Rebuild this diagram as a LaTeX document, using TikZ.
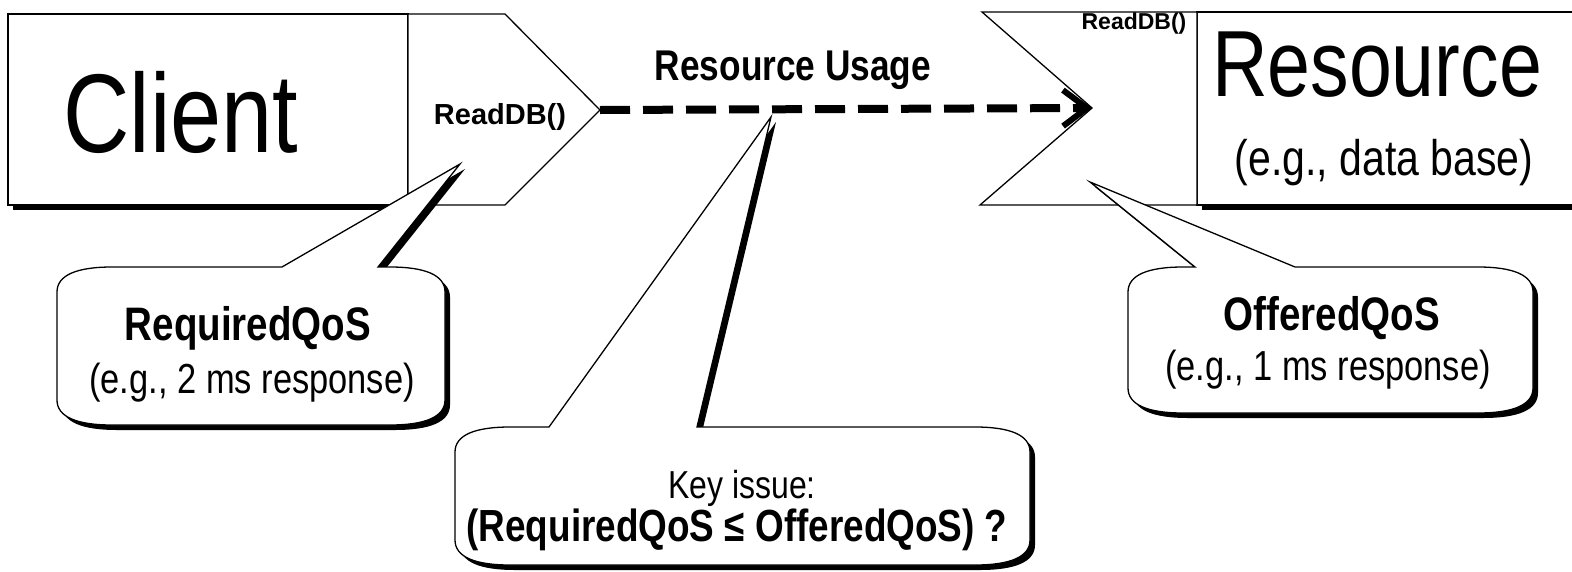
\documentclass[tikz,border=0pt]{standalone}
\usepackage{fontspec}
\setmainfont{Liberation Sans}
\newfontfamily\nar[FakeStretch=0.82]{Liberation Sans}
\newfontfamily\ari{Liberation Sans}
\usetikzlibrary{arrows.meta}
\newcommand\fs[1]{\fontsize{#1}{#1}\selectfont}
% callout path: L T R B xa xb tx ty
\newcommand\cpath[8]{(#1,#2+25) .. controls (#1,#2+8) and (#1+20,#2) .. (#1+55,#2) -- (#5,#2) -- (#7,#8) -- (#6,#2) -- (#3-55,#2) .. controls (#3-20,#2) and (#3,#2+8) .. (#3,#2+25) -- (#3,#4-25) .. controls (#3,#4-8) and (#3-20,#4) .. (#3-55,#4) -- (#1+55,#4) .. controls (#1+20,#4) and (#1,#4-8) .. (#1,#4-25) -- cycle}
\tikzset{
  thin line/.style={line width=1.3pt, line join=miter},
  shapebox/.style={thin line, draw=black, fill=white},
  shadowfill/.style={fill=black},
  txt/.style={inner sep=0pt, anchor=center, align=center},
}
\begin{document}
\begin{tikzpicture}[x=1pt,y=-1pt]
\useasboundingbox (0,0) rectangle (1572,571);
\clip (0,0) rectangle (1572,571);
\fill[white] (0,0) rectangle (1572,571);

% Client box
\fill[shadowfill] (13,19) rectangle (413,210);
\draw[shapebox] (8,14) rectangle (408,205);
\draw[shapebox] (408,14) -- (505,14) -- (600,110) -- (505,205) -- (408,205) -- cycle;
\coordinate (ctip) at (600,110);
\node[txt] (client) at (181,112) {\nar\fs{112}Client};
\node[txt] (readL) at (500,117) {\ari\bfseries\fs{29}ReadDB()};

% Resource box
\fill[shadowfill] (1202,17) rectangle (1620,210);
\draw[shapebox] (1197,12) rectangle (1620,205);
\draw[shapebox] (982,12) -- (1197,12) -- (1197,205) -- (980,205) -- (1092,108) -- cycle;
\coordinate (rnotch) at (1092,108);
\node[txt] (resource) at (1377,65) {\nar\fs{94}Resource};
\node[txt] (resex) at (1384,163) {\nar\fs{50}(e.g., data base)};
\node[txt] (readR) at (1134,24) {\ari\bfseries\fs{23}ReadDB()};

% Resource usage arrow
\draw[line width=8pt, dash pattern=on 30pt off 13pt, -{Straight Barb[length=24pt,width=36pt,line width=6pt]}] (ctip) -- (rnotch);
\node[txt] (usage) at (793,70) {\nar\bfseries\fs{43}Resource Usage};

% Callout: RequiredQoS
\fill[shadowfill, shift={(5,5)}] \cpath{57}{267}{445}{425}{282}{378}{460}{164};
\draw[shapebox] \cpath{57}{267}{445}{425}{282}{378}{460}{164};
\node[txt] (req) at (248,328) {\nar\bfseries\fs{47}RequiredQoS};
\node[txt] (reqex) at (252,383) {\nar\fs{42}(e.g., 2 ms response)};

% Callout: OfferedQoS
\fill[shadowfill, shift={(5,5)}] \cpath{1128}{267}{1533}{413}{1195}{1295}{1090}{182};
\draw[shapebox] \cpath{1128}{267}{1533}{413}{1195}{1295}{1090}{182};
\node[txt] (off) at (1332,318) {\nar\bfseries\fs{47}OfferedQoS};
\node[txt] (offex) at (1328,370) {\nar\fs{42}(e.g., 1 ms response)};

% Callout: Key issue
\fill[shadowfill, shift={(5,5)}] \cpath{455}{427}{1030}{565}{549}{697}{771}{117};
\draw[shapebox] \cpath{455}{427}{1030}{565}{549}{697}{771}{117};
\node[txt] (key) at (742,488) {\nar\fs{39}Key issue:};
\node[txt] (keyq) at (737,530) {\nar\bfseries\fs{45}(RequiredQoS ≤ OfferedQoS) ?};
\end{tikzpicture}
\end{document}
